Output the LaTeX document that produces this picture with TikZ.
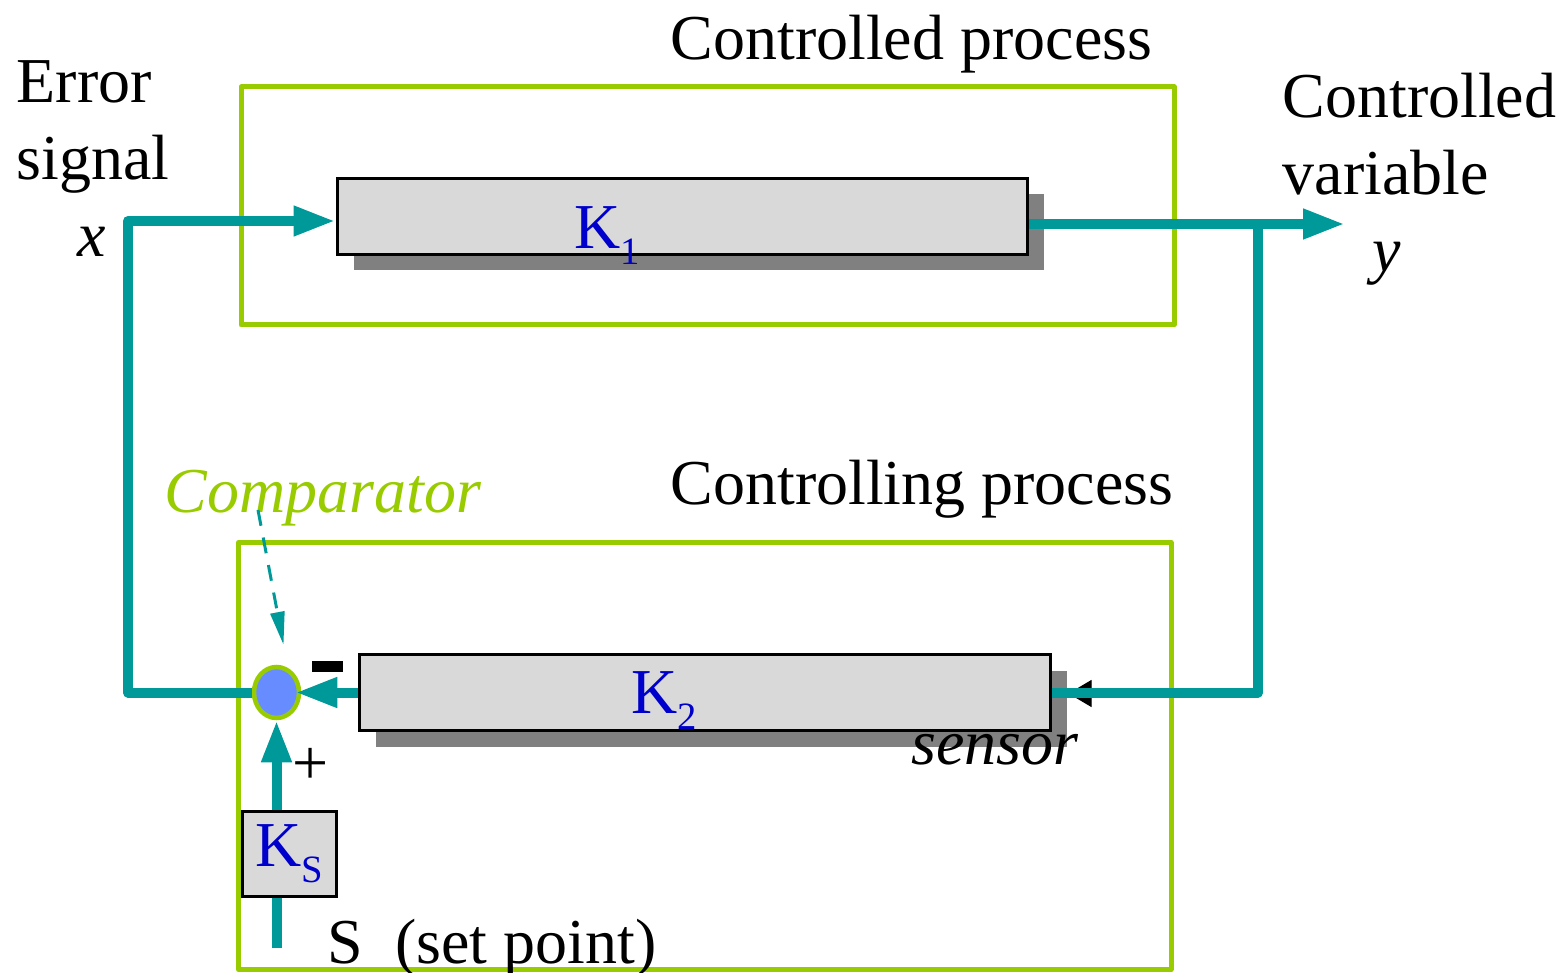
\documentclass[tikz,border=0pt]{standalone}
\usepackage{fontspec}
\setmainfont{Liberation Serif}
\usepackage{tikz}
\usetikzlibrary{positioning,arrows.meta,calc,shapes.geometric,shadows}
\definecolor{flowteal}{RGB}{0,153,153}
\definecolor{framegreen}{RGB}{153,204,0}
\definecolor{boxgray}{RGB}{217,217,217}
\definecolor{kblue}{RGB}{0,0,204}
\definecolor{compblue}{RGB}{102,140,255}
\newcommand{\Ksub}[1]{K\raisebox{-0.16cm}{\fontsize{11}{11}\selectfont #1}}

\begin{document}
\begin{tikzpicture}[
    >={Triangle[length=0.42cm, width=0.28cm]},
    txt/.style={anchor=base west, inner sep=0, font=\fontsize{18.2}{21}\selectfont},
    itxt/.style={txt, font=\fontsize{18.2}{21}\selectfont\itshape},
    frame/.style={draw=framegreen, line width=0.05cm, line join=round, inner sep=0},
    kbox/.style={draw, line width=0.03cm, fill=boxgray, inner sep=0,
                 minimum width=6.9cm, minimum height=0.76cm,
                 drop shadow={shadow xshift=0.17cm, shadow yshift=-0.16cm,
                              fill=black!50, opacity=1}},
    klabel/.style={txt, text=kblue},
    flow/.style={draw=flowteal, line width=0.1cm, line join=round},
    arrow/.style={flow, ->},
    pointer/.style={draw=flowteal, line width=0.03cm, dash pattern=on 0.16cm off 0.12cm,
                    -{Triangle[length=0.33cm, width=0.14cm]}},
]
    \useasboundingbox (0,0) rectangle (15.64,-9.73);

    % Process frames
    \node[frame, minimum width=9.33cm, minimum height=2.38cm] (upper) at (7.075,-2.06) {};
    \node[frame, minimum width=9.325cm, minimum height=4.27cm] (lower) at (7.0475,-7.56) {};

    % Blocks
    \node[kbox] (kone) at (6.82,-2.165) {};
    \node[kbox, minimum width=6.91cm] (ktwo) at (7.045,-6.925) {};
    \node[klabel] (konelabel) at ($(kone.west)+(2.38,-0.325)$) {\Ksub{1}};
    \node[klabel] (ktwolabel) at ($(ktwo.west)+(2.73,-0.205)$) {\Ksub{2}};
    \node[draw, line width=0.03cm, fill=boxgray, inner sep=0, minimum width=0.94cm,
          minimum height=0.85cm, text=kblue, font=\fontsize{18.2}{21}\selectfont]
          (ks) at (2.89,-8.535) {\Ksub{S}};
    \node[ellipse, draw=framegreen, line width=0.045cm, fill=compblue, inner sep=0,
          minimum width=0.45cm, minimum height=0.51cm] (comp) at (2.765,-6.925) {};
    \node[fill=black, inner sep=0, minimum width=0.31cm, minimum height=0.11cm]
          (minus) at (3.275,-6.665) {};

    % Free ends
    \coordinate (errtop) at (1.28,-2.21);
    \coordinate (ytap) at (12.58,-2.24);
    \coordinate (yout) at (13.45,-2.24);
    \coordinate (setin) at (2.765,-9.48);

    % Forward path
    \draw[arrow] (comp.west) -| (errtop) -- (errtop -| kone.west);
    \draw[arrow] (kone.east |- yout) -- (yout);

    % Feedback path
    \draw[-{Triangle[length=0.23cm, width=0.27cm]}, line width=0.01cm]
        ($(ktwo.east)+(0.40,-0.01)$) -- ($(ktwo.east)+(0.17,-0.01)$);
    \draw[flow] (ytap) |- (ktwo.east);
    \draw[arrow, shorten >=-0.06cm] (ktwo.west) -- (comp.east);
    \draw[arrow] (ks.north -| comp.south) -- (comp.south);
    \draw[flow] (setin) -- (setin |- ks.south);

    % Labels
    \node[txt] (ctitle) at (6.70,-0.60) {Controlled process};
    \node[txt] (ltitle) at (6.70,-5.05) {Controlling process};
    \node[txt] (err) at (0.16,-1.03) {Error};
    \node[txt] (sig) at (0.16,-1.80) {signal};
    \node[itxt] (xlab) at (0.77,-2.57) {x};
    \node[txt] (cvar) at (12.82,-1.18) {Controlled};
    \node[txt] (var) at (12.82,-1.95) {variable};
    \node[itxt] (ylab) at (13.72,-2.72) {y};
    \node[itxt, text=framegreen] (complabel) at (1.64,-5.12) {Comparator};
    \node[itxt] (sensor) at (9.11,-7.64) {sensor};
    \node[txt] (plus) at (2.92,-7.84) {+};
    \node[txt] (setlabel) at (3.27,-9.63) {S~~(set point)};

    \draw[pointer] ($(complabel.base west)+(0.94,0.02)$) -- ($(comp.north)+(0.07,0.2)$);
\end{tikzpicture}
\end{document}
